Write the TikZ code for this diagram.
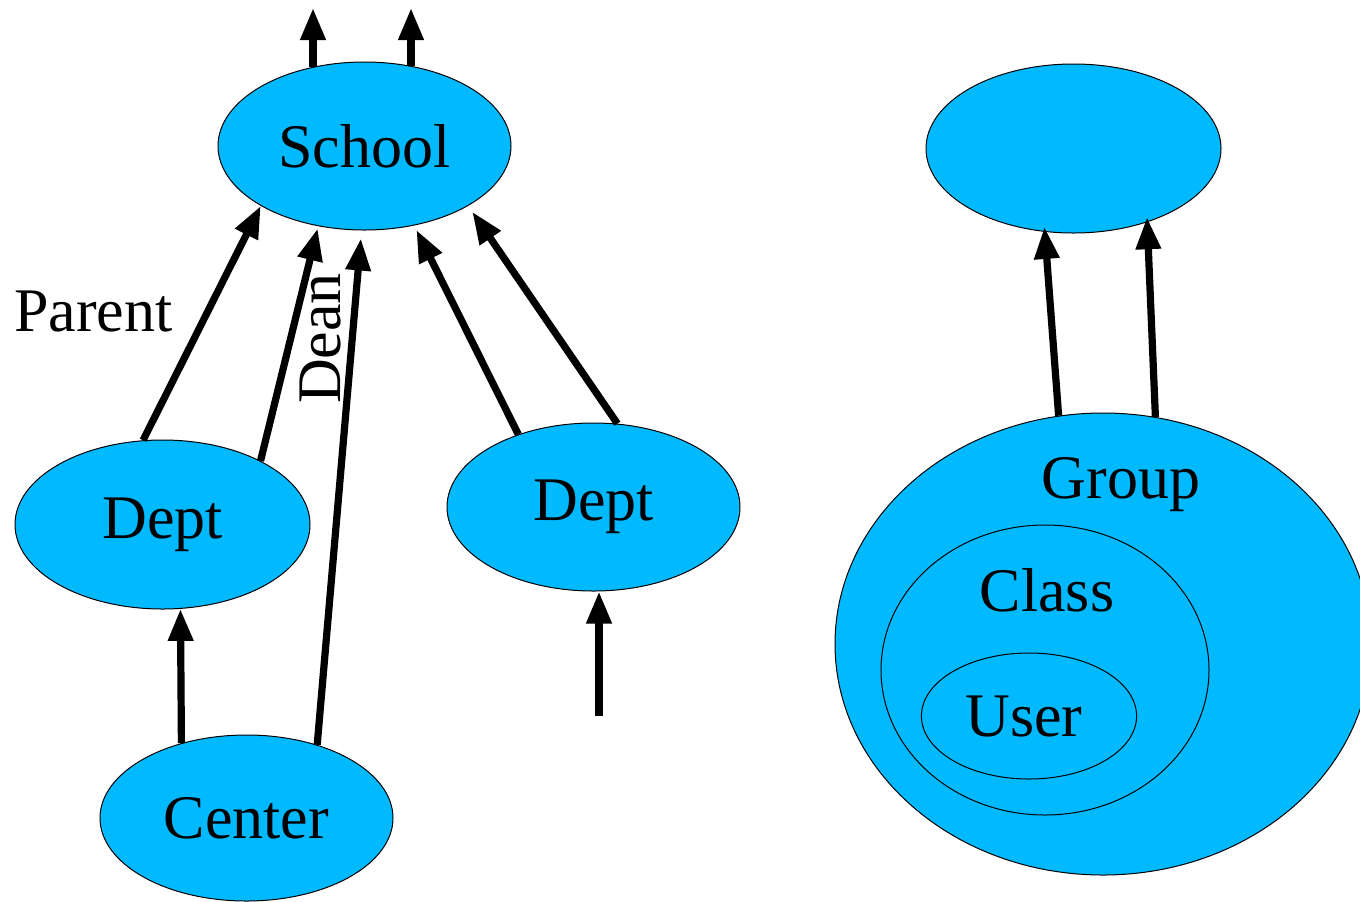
\documentclass[tikz,border=0pt]{standalone}
\usepackage{fontspec}
\setmainfont{Liberation Serif}
\usepackage{xcolor}
\usepackage{tikz}
\usetikzlibrary{arrows.meta, shapes.geometric}
\definecolor{skyfill}{RGB}{0,185,255}

\begin{document}
\begin{tikzpicture}[x=0.5pt, y=-0.5pt,
    blob/.style={ellipse, draw=black, line width=0.5pt, fill=skyfill, inner sep=0pt, font=\fontsize{31}{37}\selectfont},
    lbl/.style={inner sep=0pt, font=\fontsize{31}{37}\selectfont},
    link/.style={line width=3.6pt, -{Triangle[length=16pt, width=12pt]}}]
          \useasboundingbox (0,0) rectangle (1360,901);
          \node[blob, minimum width=146.5pt, minimum height=84pt] (school) at (364.5,146) {School};
          \node[blob, minimum width=147.5pt, minimum height=84.5pt] (dept) at (162.5,524.5) {Dept};
          \node[blob, minimum width=146.5pt, minimum height=84pt] (deptb) at (593.5,507) {Dept};
          \node[blob, minimum width=146.5pt, minimum height=83pt] (center) at (246.5,818) {Center};
          \node[blob, minimum width=147.5pt, minimum height=84.5pt] (top) at (1073.5,148.5) {};
          \node[blob, minimum width=268pt, minimum height=231pt] (group) at (1103,644) {};
          \node[blob, minimum width=164pt, minimum height=145pt] (class) at (1045,670) {};
          \node[blob, minimum width=107.6pt, minimum height=63pt] (user) at (1029,716) {};
          \node[lbl] (grouptext) at (1121,485) {Group};
          \node[lbl] (classtext) at (1047,590) {Class};
          \node[lbl] (usertext) at (1024,716) {User};
          \node[lbl] (parent) at (93.5,311) {Parent};
          \node[lbl, rotate=90] (dean) at (320,338.5) {Dean};
          \coordinate (up1) at (313,8);
          \coordinate (up2) at (411,8);
          \coordinate (loose) at (599,716);
          \draw[link] (up1 |- school.124) -- (up1);
          \draw[link] (up2 |- school.60) -- (up2);
          \draw[link] (dept.103.3) -- (school.210.8);
          \draw[link, shorten >=1.2pt] (dept.33.2) -- (school.240.4);
          \draw[link, shorten >=4pt] (center.46.9) -- (school.268);
          \draw[link, shorten >=2.5pt] (deptb.136.4) -- (school.302.8);
          \draw[link, shorten >=3.6pt] (deptb.74.9) -- (school.330.9);
          \draw[link] (center.131.5) -- (dept.282.3);
          \draw[link] (loose) -- (loose |- deptb.south);
          \draw[link, shorten >=-2.5pt] (group.101.4) -- (top.251.8);
          \draw[link, shorten >=-2.5pt] (group.77.3) -- (top.315.8);
        \end{tikzpicture}
\end{document}
